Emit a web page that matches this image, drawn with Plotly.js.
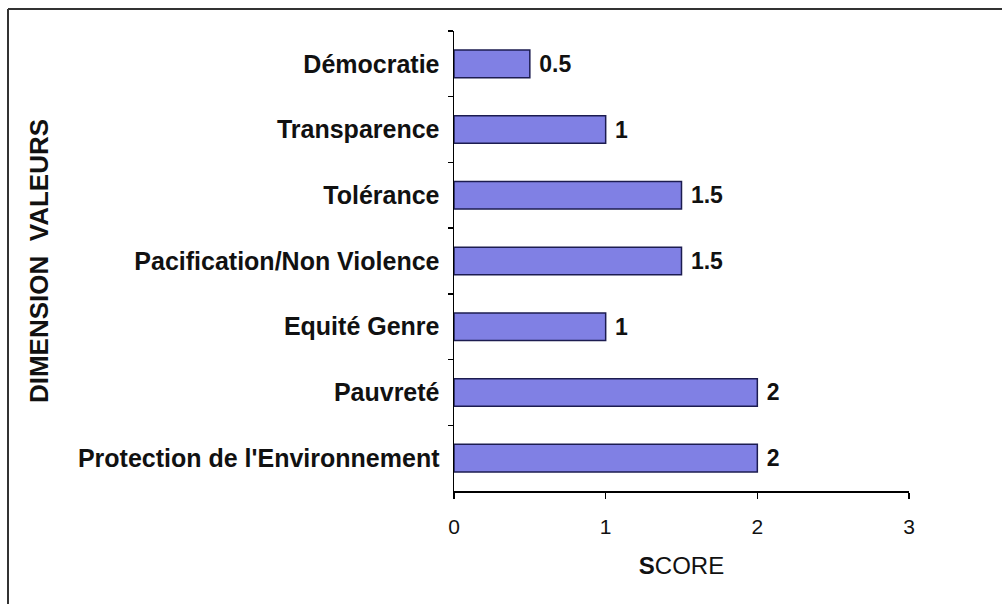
<!DOCTYPE html>
<html><head><meta charset="utf-8">
<script src="https://cdn.plot.ly/plotly-3.0.1.min.js"></script>
<style>html,body{margin:0;padding:0;background:#fff}#chart{width:1002px;height:604px}</style>
</head><body><div id="chart"></div>
<script>
const categories = ["Démocratie","Transparence","Tolérance","Pacification/Non Violence","Equité Genre","Pauvreté","Protection de l'Environnement"];
const scores = [0.5, 1, 1.5, 1.5, 1, 2, 2];
const xTickVals = [0, 1, 2, 3];
const xTitle = "<b>S</b>CORE";
const yTitle = "<b>DIMENSION  VALEURS</b>";

const font = "Liberation Sans, Arial, sans-serif";
const trace = {
  type: "bar", orientation: "h",
  x: scores, y: categories,
  text: scores.map(v => " <b>" + v + "</b>"),
  textposition: "outside",
  textfont: {family: font, size: 23, color: "#111"},
  cliponaxis: false,
  marker: {color: "#8080e4", line: {color: "#1c1c50", width: 1.5}},
  hoverinfo: "x+y"
};
const layout = {
  width: 1002, height: 604,
  margin: {l: 454, r: 93, t: 31, b: 113},
  paper_bgcolor: "#fff", plot_bgcolor: "#fff",
  bargap: 0.58,
  showlegend: false,
  font: {family: font, color: "#111"},
  xaxis: {
    range: [0, 3], tickvals: xTickVals, showgrid: false, zeroline: false,
    showline: true, linecolor: "#000", linewidth: 1.5,
    ticks: "outside", ticklen: 6, tickcolor: "#000", tickwidth: 1.5,
    ticklabelstandoff: 10,
    tickfont: {family: font, size: 21, color: "#111"},
    title: {text: xTitle, font: {family: font, size: 24, color: "#111"}, standoff: 20},
    automargin: false, fixedrange: true
  },
  yaxis: {
    type: "category", autorange: "reversed", showgrid: false, zeroline: false,
    showline: true, linecolor: "#000", linewidth: 1.5,
    ticks: "outside", ticklen: 5, tickcolor: "#000", tickwidth: 1.5,
    tickson: "boundaries", ticklabelstandoff: 8,
    tickprefix: "<b>", ticksuffix: "</b>",
    tickfont: {family: font, size: 25, color: "#111"},
    title: {text: yTitle, font: {family: font, size: 26, color: "#111"}, standoff: 22},
    automargin: false, fixedrange: true
  }
};
// frame: top and left edges of the outer border
const fx = (8 - 454) / 455, fy = (604 - 113 - 9) / 460;
layout.shapes = [
  {type: "line", xref: "paper", yref: "paper", x0: fx, x1: (1002 - 454) / 455, y0: fy, y1: fy,
   line: {color: "#333", width: 2}},
  {type: "line", xref: "paper", yref: "paper", x0: fx, x1: fx, y0: fy, y1: -0.3,
   line: {color: "#333", width: 2}}
];
Plotly.newPlot("chart", [trace], layout, {displayModeBar: false, staticPlot: true});
</script></body></html>
